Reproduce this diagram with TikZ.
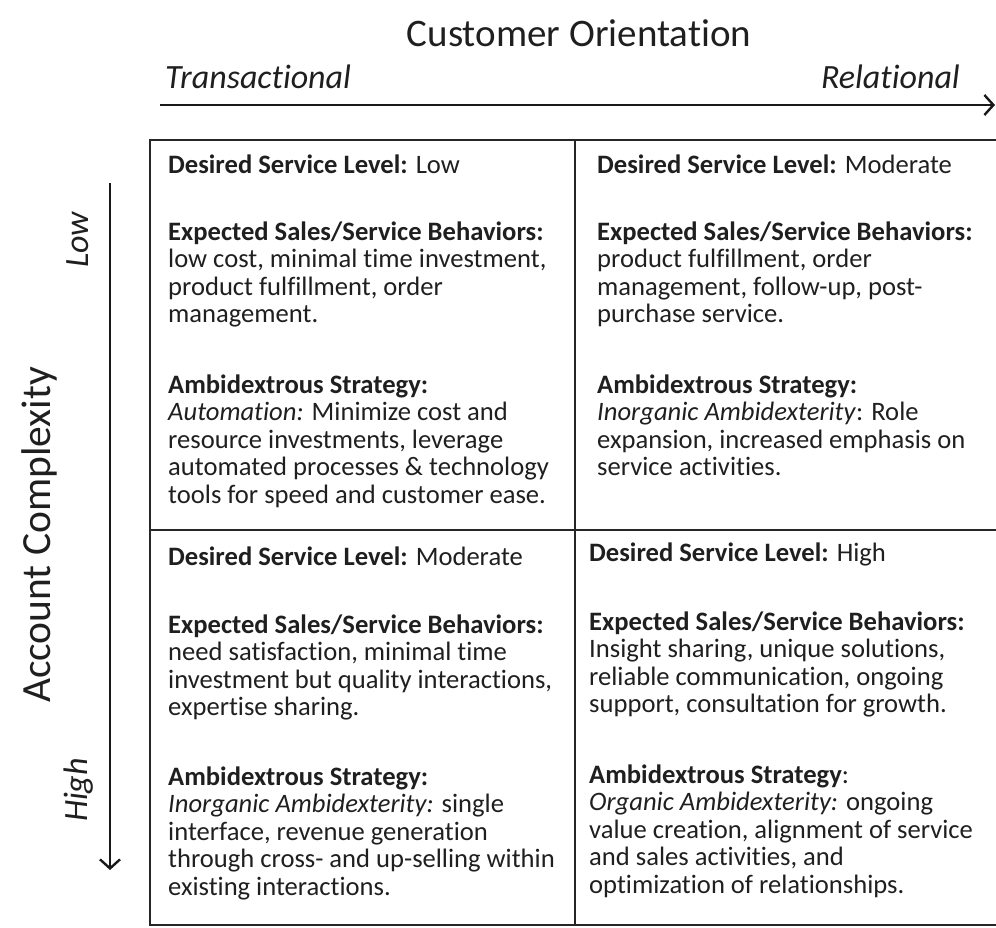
\documentclass[tikz,border=0pt]{standalone}
\usepackage{fontspec}
\setmainfont{Carlito}[Ligatures=NoCommon]
\usetikzlibrary{arrows.meta}
\tikzset{
 txt/.style={anchor=base west, inner sep=0pt, text=black!88, font=\fontsize{26.6}{27.6}\selectfont},
 axislab/.style={inner sep=0pt, anchor=base, font=\fontsize{39}{44}\selectfont, text=black!88},
 polelab/.style={inner sep=0pt, font=\fontsize{34}{38}\selectfont\itshape, text=black!88},
 gridline/.style={line width=2pt, draw=black!85},
 axisarrow/.style={line width=2.4pt, draw=black!90, -{Straight Barb[length=9pt,width=20pt,line width=2.4pt]}}
}
\newcommand\cellpar[1]{\begin{tabular}[t]{@{}l@{}}#1\end{tabular}}
\begin{document}
\begin{tikzpicture}[x=1pt,y=-1pt]
\useasboundingbox (0,0) rectangle (996,927);
% titles
\node[axislab] (title) at (579,46) {Customer Orientation};
\node[axislab, rotate=90, font=\fontsize{41.5}{46}\selectfont] (ylab) at (50,535) {Account Complexity};
\node[polelab, anchor=base west] (trans) at (165,88) {Transactional};
\node[polelab, anchor=base east] (rel) at (960,88) {Relational};
\node[polelab, anchor=base, rotate=90] (low) at (88,240) {Low};
\node[polelab, anchor=base, rotate=90] (high) at (87,790) {High};
% axes
\coordinate (hx0) at (160,105);
\coordinate (hx1) at (995,105);
\coordinate (vy0) at (110,183);
\coordinate (vy1) at (110,870);
\draw[axisarrow] (hx0) -- (hx1);
\draw[axisarrow] (vy0) -- (vy1);
% grid
\coordinate (tl) at (150,140);
\coordinate (tr) at (996,140);
\coordinate (bl) at (150,925);
\coordinate (br) at (996,925);
\coordinate (ml) at (150,530);
\coordinate (mr) at (996,530);
\coordinate (mt) at (575,140);
\coordinate (mb) at (575,925);
\draw[gridline] (tr) -- (tl) -- (bl) -- (br);
\draw[gridline] (ml) -- (mr);
\draw[gridline] (mt) -- (mb);
% top-left
\node[txt] (a1) at (168,173) {\cellpar{\textbf{Desired Service Level:} Low}};
\node[txt] (a2) at (168,240) {\cellpar{\textbf{Expected Sales/Service Behaviors:}\\ low cost, minimal time investment,\\ product fulfillment, order\\ management.}};
\node[txt] (a3) at (168,393) {\cellpar{\textbf{Ambidextrous Strategy:}\\ \textit{Automation:} Minimize cost and\\ resource investments, leverage\\ automated processes \& technology\\ tools for speed and customer ease.}};
% top-right
\node[txt] (b1) at (597,173) {\cellpar{\textbf{Desired Service Level:} Moderate}};
\node[txt] (b2) at (597,240) {\cellpar{\textbf{Expected Sales/Service Behaviors:}\\ product fulfillment, order\\ management, follow-up, post-\\ purchase service.}};
\node[txt] (b3) at (597,393) {\cellpar{\textbf{Ambidextrous Strategy:}\\ \textit{Inorganic Ambidexterity}: Role\\ expansion, increased emphasis on\\ service activities.}};
% bottom-left
\node[txt] (c1) at (168,565) {\cellpar{\textbf{Desired Service Level:} Moderate}};
\node[txt] (c2) at (168,633) {\cellpar{\textbf{Expected Sales/Service Behaviors:}\\ need satisfaction, minimal time\\ investment but quality interactions,\\ expertise sharing.}};
\node[txt] (c3) at (168,785) {\cellpar{\textbf{Ambidextrous Strategy:}\\ \textit{Inorganic Ambidexterity:} single\\ interface, revenue generation\\ through cross- and up-selling within\\ existing interactions.}};
% bottom-right
\node[txt] (d1) at (589,561) {\cellpar{\textbf{Desired Service Level:} High}};
\node[txt] (d2) at (589,630) {\cellpar{\textbf{Expected Sales/Service Behaviors:}\\ Insight sharing, unique solutions,\\ reliable communication, ongoing\\ support, consultation for growth.}};
\node[txt] (d3) at (589,783) {\cellpar{\textbf{Ambidextrous Strategy}:\\ \textit{Organic Ambidexterity:} ongoing\\ value creation, alignment of service\\ and sales activities, and\\ optimization of relationships.}};
\end{tikzpicture}
\end{document}
